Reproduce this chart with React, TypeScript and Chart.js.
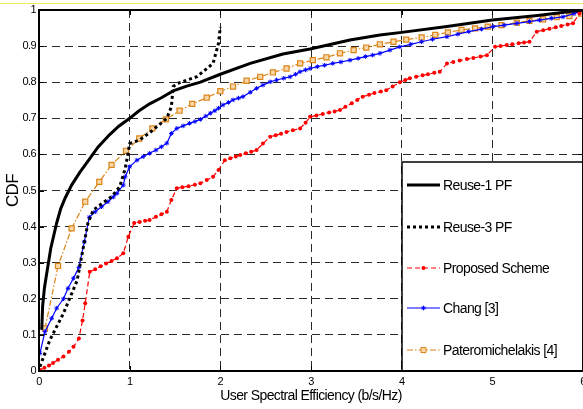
import React, { useEffect, useRef } from 'react';
import { Chart, registerables } from 'chart.js';

Chart.register(...registerables);

const xTickLabels = ['0', '1', '2', '3', '4', '5', '6'];
const yTickLabels = ['0', '0.1', '0.2', '0.3', '0.4', '0.5', '0.6', '0.7', '0.8', '0.9', '1'];

const seriesNames = ['Reuse-1 PF', 'Reuse-3 PF', 'Proposed Scheme', 'Chang [3]', 'Pateromichelakis [4]'];

const reuse1X = [0.03, 0.04, 0.06, 0.085, 0.13, 0.195, 0.24, 0.29, 0.36, 0.45, 0.55, 0.65, 0.78, 0.88, 1.0, 1.1, 1.22, 1.35, 1.48, 1.63, 1.78, 2.0, 2.33, 2.69, 2.99, 3.43, 3.76, 4.0, 4.5, 5.0, 5.5, 6.0];
const reuse1Y = [0.114, 0.18, 0.23, 0.27, 0.34, 0.41, 0.45, 0.48, 0.515, 0.55, 0.585, 0.62, 0.655, 0.678, 0.7, 0.72, 0.74, 0.757, 0.776, 0.789, 0.8, 0.822, 0.852, 0.878, 0.892, 0.917, 0.931, 0.938, 0.954, 0.972, 0.985, 1.0];

const reuse3X = [0.01, 0.12, 0.27, 0.42, 0.49, 0.54, 0.6, 0.7, 0.8, 0.89, 0.95, 0.98, 1.0, 1.11, 1.22, 1.41, 1.46, 1.48, 1.53, 1.74, 1.92, 1.98, 2.0];
const reuse3Y = [0.012, 0.086, 0.16, 0.25, 0.344, 0.41, 0.446, 0.465, 0.483, 0.51, 0.56, 0.6, 0.63, 0.64, 0.66, 0.7, 0.732, 0.788, 0.797, 0.815, 0.852, 0.908, 0.953];

const proposedX = [0.01, 0.06, 0.11, 0.155, 0.21, 0.27, 0.33, 0.38, 0.44, 0.48, 0.51, 0.56, 0.62, 0.68, 0.74, 0.8, 0.86, 0.93, 0.985, 1.05, 1.11, 1.17, 1.22, 1.29, 1.35, 1.41, 1.46, 1.52, 1.58, 1.65, 1.72, 1.78, 1.85, 1.92, 1.98, 2.05, 2.11, 2.17, 2.22, 2.28, 2.34, 2.4, 2.47, 2.55, 2.61, 2.67, 2.73, 2.8, 2.88, 2.94, 2.99, 3.06, 3.13, 3.2, 3.26, 3.32, 3.38, 3.45, 3.51, 3.57, 3.64, 3.7, 3.77, 3.83, 3.9, 3.98, 4.04, 4.09, 4.16, 4.23, 4.29, 4.36, 4.42, 4.5, 4.57, 4.64, 4.72, 4.79, 4.87, 4.94, 5.03, 5.09, 5.16, 5.22, 5.29, 5.35, 5.41, 5.49, 5.56, 5.63, 5.7, 5.76, 5.83, 5.89, 5.96, 6.0];
const proposedY = [0.003, 0.009, 0.015, 0.022, 0.031, 0.04, 0.053, 0.067, 0.09, 0.14, 0.188, 0.275, 0.282, 0.29, 0.298, 0.305, 0.312, 0.326, 0.372, 0.41, 0.413, 0.416, 0.418, 0.427, 0.434, 0.441, 0.474, 0.506, 0.509, 0.512, 0.516, 0.52, 0.529, 0.538, 0.557, 0.584, 0.589, 0.594, 0.598, 0.603, 0.607, 0.612, 0.63, 0.649, 0.653, 0.657, 0.662, 0.667, 0.672, 0.688, 0.704, 0.708, 0.712, 0.716, 0.719, 0.723, 0.732, 0.742, 0.751, 0.76, 0.765, 0.77, 0.774, 0.778, 0.788, 0.8, 0.806, 0.811, 0.815, 0.819, 0.822, 0.826, 0.829, 0.852, 0.856, 0.86, 0.864, 0.867, 0.871, 0.875, 0.898, 0.9, 0.903, 0.905, 0.908, 0.91, 0.912, 0.94, 0.944, 0.948, 0.952, 0.956, 0.96, 0.963, 0.99, 1.0];

const changX = [0.01, 0.066, 0.14, 0.195, 0.27, 0.32, 0.38, 0.44, 0.5, 0.555, 0.62, 0.69, 0.76, 0.82, 0.86, 0.93, 0.95, 1.0, 1.08, 1.15, 1.22, 1.29, 1.35, 1.41, 1.46, 1.52, 1.59, 1.66, 1.72, 1.78, 1.84, 1.89, 1.94, 1.98, 2.03, 2.09, 2.14, 2.2, 2.25, 2.33, 2.4, 2.47, 2.55, 2.62, 2.7, 2.77, 2.83, 2.88, 2.94, 2.99, 3.07, 3.15, 3.24, 3.33, 3.43, 3.52, 3.6, 3.68, 3.76, 3.87, 3.98, 4.1, 4.22, 4.34, 4.5, 4.62, 4.74, 4.88, 5.01, 5.13, 5.27, 5.41, 5.52, 5.65, 5.78, 5.9, 6.0];
const changY = [0.049, 0.109, 0.146, 0.174, 0.2, 0.229, 0.257, 0.287, 0.358, 0.426, 0.441, 0.455, 0.469, 0.482, 0.492, 0.515, 0.538, 0.566, 0.584, 0.594, 0.603, 0.612, 0.621, 0.631, 0.658, 0.672, 0.679, 0.686, 0.691, 0.697, 0.706, 0.714, 0.721, 0.728, 0.737, 0.744, 0.751, 0.756, 0.76, 0.772, 0.783, 0.792, 0.801, 0.806, 0.811, 0.815, 0.822, 0.829, 0.834, 0.838, 0.843, 0.847, 0.852, 0.856, 0.861, 0.866, 0.871, 0.875, 0.88, 0.889, 0.898, 0.905, 0.912, 0.919, 0.926, 0.933, 0.94, 0.947, 0.954, 0.958, 0.963, 0.968, 0.972, 0.977, 0.981, 0.99, 1.0];

const pateroX = [0.066, 0.21, 0.36, 0.51, 0.665, 0.8, 0.96, 1.106, 1.25, 1.4, 1.55, 1.69, 1.85, 2.0, 2.14, 2.29, 2.44, 2.58, 2.73, 2.88, 3.02, 3.17, 3.32, 3.47, 3.61, 3.76, 3.91, 4.05, 4.22, 4.37, 4.51, 4.66, 4.81, 4.95, 5.1, 5.27, 5.41, 5.56, 5.71, 5.85, 5.98];
const pateroY = [0.118, 0.291, 0.395, 0.469, 0.524, 0.571, 0.61, 0.644, 0.672, 0.697, 0.721, 0.74, 0.757, 0.775, 0.788, 0.804, 0.815, 0.827, 0.838, 0.852, 0.861, 0.869, 0.88, 0.889, 0.896, 0.905, 0.912, 0.918, 0.924, 0.931, 0.938, 0.945, 0.949, 0.954, 0.958, 0.965, 0.97, 0.974, 0.98, 0.983, 0.99];

const FONT = "'Liberation Sans', Arial, Helvetica, sans-serif";
const SPACING = '-0.6px';

const toPts = (xs: number[], ys: number[]) => xs.map((x, i) => ({ x, y: ys[i] }));

function drawMarker(ctx: CanvasRenderingContext2D, style: string, x: number, y: number, r: number, stroke: string, fill: string) {
  ctx.save();
  ctx.strokeStyle = stroke;
  ctx.fillStyle = fill;
  ctx.lineWidth = 1;
  ctx.setLineDash([]);
  ctx.beginPath();
  if (style === 'circle') {
    ctx.arc(x, y, r, 0, Math.PI * 2);
    ctx.fill();
  } else if (style === 'rect') {
    const s = r * Math.SQRT1_2;
    ctx.rect(x - s, y - s, 2 * s, 2 * s);
    ctx.fill();
    ctx.stroke();
  } else if (style === 'star') {
    ctx.moveTo(x - r, y); ctx.lineTo(x + r, y);
    ctx.moveTo(x, y - r); ctx.lineTo(x, y + r);
    const d = r * Math.SQRT1_2;
    ctx.moveTo(x - d, y - d); ctx.lineTo(x + d, y + d);
    ctx.moveTo(x - d, y + d); ctx.lineTo(x + d, y - d);
    ctx.stroke();
  }
  ctx.restore();
}

const framePlugin = {
  id: 'matlabFrame',
  beforeDraw(chart: any) {
    const ctx = chart.ctx as any;
    ctx.save();
    ctx.fillStyle = '#ffffff';
    ctx.fillRect(0, 0, chart.width, chart.height);
    ctx.fillStyle = '#f3e85a';
    ctx.fillRect(0, 3, chart.width, 1);
    ctx.restore();
    ctx.letterSpacing = SPACING;
  },
  afterDatasetsDraw(chart: any) {
    const ctx = chart.ctx as any;
    const { left, top, right, bottom } = chart.chartArea;
    const xs = chart.scales.x;
    const ys = chart.scales.y;
    ctx.save();
    ctx.letterSpacing = SPACING;
    ctx.strokeStyle = '#000';
    ctx.lineWidth = 1;
    ctx.setLineDash([]);
    ctx.beginPath();
    xs.ticks.forEach((t: any) => {
      const px = Math.round(xs.getPixelForValue(t.value)) + 0.5;
      ctx.moveTo(px, bottom); ctx.lineTo(px, bottom - 5);
      ctx.moveTo(px, top); ctx.lineTo(px, top + 5);
    });
    ys.ticks.forEach((t: any) => {
      const py = Math.round(ys.getPixelForValue(t.value)) + 0.5;
      ctx.moveTo(left, py); ctx.lineTo(left + 5, py);
      ctx.moveTo(right, py); ctx.lineTo(right - 5, py);
    });
    ctx.stroke();

    const lx = 402, ly = 162, lw = 200, lh = bottom - ly;
    ctx.fillStyle = '#fff';
    ctx.fillRect(lx, ly, lw, lh);
    ctx.lineWidth = 1.5;
    ctx.strokeStyle = '#000';
    ctx.strokeRect(lx, ly, lw, lh);

    const rowY = [185, 227, 268, 308, 350];
    chart.data.datasets.forEach((ds: any, i: number) => {
      const y = rowY[i];
      ctx.save();
      ctx.strokeStyle = ds.borderColor;
      ctx.lineWidth = ds.borderWidth;
      ctx.setLineDash(ds.borderDash || []);
      ctx.beginPath();
      ctx.moveTo(407, y);
      ctx.lineTo(440, y);
      ctx.stroke();
      ctx.restore();
      if (ds.pointRadius > 0) {
        drawMarker(ctx, ds.pointStyle, 423.5, y, ds.pointRadius, ds.pointBorderColor, ds.pointBackgroundColor);
      }
      ctx.fillStyle = '#000';
      ctx.font = `14px ${FONT}`;
      ctx.textAlign = 'left';
      ctx.textBaseline = 'middle';
      ctx.fillText(ds.label, 443, y + 1);
    });

    ctx.lineWidth = 2;
    ctx.strokeStyle = '#000';
    ctx.strokeRect(left, top, right - left, bottom - top);
    ctx.restore();
  },
};

export default function App() {
  const canvasRef = useRef<HTMLCanvasElement | null>(null);

  useEffect(() => {
    const canvas = canvasRef.current;
    if (!canvas) return;
    const gridCommon = { color: '#2a2a2a', lineWidth: 1, drawTicks: false };
    const borderCommon = { display: false, dash: [8, 5] };
    const chart = new Chart(canvas, {
      type: 'line',
      data: {
        datasets: [
          {
            label: seriesNames[0],
            data: toPts(reuse1X, reuse1Y),
            borderColor: '#000000',
            borderWidth: 3,
            pointRadius: 0,
            pointStyle: 'circle',
            pointBorderColor: '#000',
            pointBackgroundColor: '#000',
          },
          {
            label: seriesNames[1],
            data: toPts(reuse3X, reuse3Y),
            borderColor: '#000000',
            borderWidth: 3,
            borderDash: [3, 3],
            pointRadius: 0,
            pointStyle: 'circle',
            pointBorderColor: '#000',
            pointBackgroundColor: '#000',
          },
          {
            label: seriesNames[2],
            data: toPts(proposedX, proposedY),
            borderColor: '#ff0000',
            borderWidth: 1.2,
            borderDash: [5, 3],
            pointRadius: 2,
            pointStyle: 'circle',
            pointBorderColor: '#ff0000',
            pointBackgroundColor: '#ff0000',
            pointBorderWidth: 0,
          },
          {
            label: seriesNames[3],
            data: toPts(changX, changY),
            borderColor: '#0000ff',
            borderWidth: 1.2,
            pointRadius: 2.3,
            pointStyle: 'star',
            pointBorderColor: '#0000ff',
            pointBackgroundColor: '#0000ff',
            pointBorderWidth: 1,
          },
          {
            label: seriesNames[4],
            data: toPts(pateroX, pateroY),
            borderColor: '#dc8418',
            borderWidth: 1.2,
            borderDash: [6, 2, 1.5, 2],
            pointRadius: 3.6,
            pointStyle: 'rect',
            pointBorderColor: '#dc8418',
            pointBackgroundColor: '#f6d8a8',
            pointBorderWidth: 1.2,
          },
        ],
      },
      options: {
        animation: false,
        responsive: false,
        devicePixelRatio: 1,
        layout: { padding: { top: 10, right: 17, left: 0, bottom: 0 } },
        plugins: { legend: { display: false }, tooltip: { enabled: false } },
        elements: { line: { tension: 0 } },
        scales: {
          x: {
            type: 'linear',
            min: 0,
            max: 6,
            ticks: {
              stepSize: 1,
              autoSkip: false,
              maxRotation: 0,
              padding: 4,
              color: '#000',
              font: { family: FONT, size: 11 },
              callback: (_v: any, i: number) => xTickLabels[i],
            },
            grid: gridCommon,
            border: borderCommon,
            title: {
              display: true,
              text: 'User Spectral Efficiency (b/s/Hz)',
              color: '#000',
              font: { family: FONT, size: 14 },
              padding: { top: 0, bottom: 4 },
            },
            afterFit: (s: any) => { s.height = 38; },
          },
          y: {
            type: 'linear',
            min: 0,
            max: 1,
            ticks: {
              stepSize: 0.1,
              autoSkip: false,
              padding: 3,
              color: '#000',
              font: { family: FONT, size: 11 },
              callback: (_v: any, i: number) => yTickLabels[i],
            },
            grid: gridCommon,
            border: borderCommon,
            title: {
              display: true,
              text: 'CDF',
              color: '#000',
              font: { family: FONT, size: 17 },
              padding: { top: 3, bottom: 0 },
            },
            afterFit: (s: any) => { s.width = 39; },
          },
        },
      } as any,
      plugins: [framePlugin],
    });
    return () => chart.destroy();
  }, []);

  return (
    <div style={{ position: 'fixed', left: 0, top: 0, width: 583, height: 409, overflow: 'hidden', background: '#fff' }}>
      <canvas ref={canvasRef} width={600} height={409} style={{ display: 'block', width: 600, height: 409 }} />
    </div>
  );
}
